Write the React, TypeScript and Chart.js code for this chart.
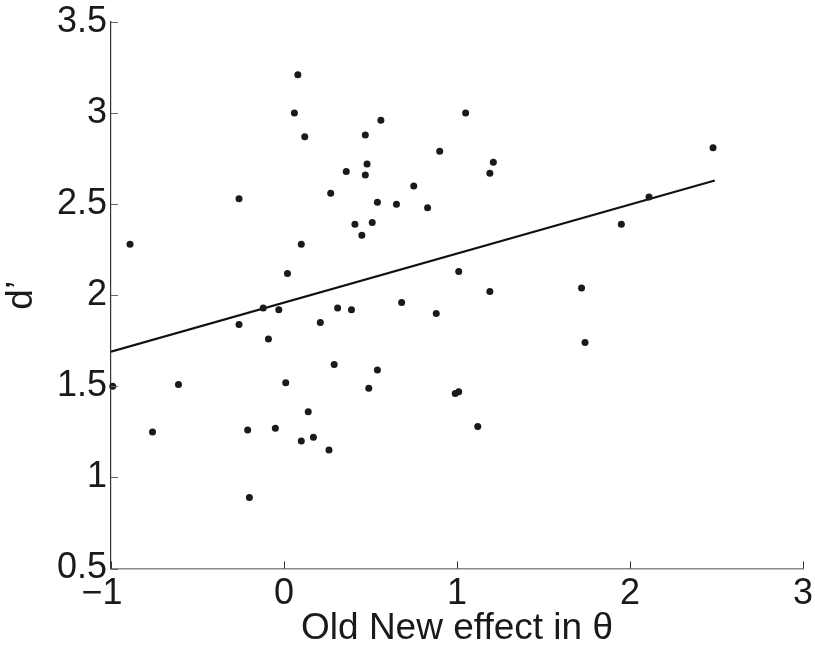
import React, { useEffect, useRef } from "react";
import { Chart, registerables } from "chart.js";

Chart.register(...registerables);

const xVals = [
  -0.89, 0.08, 0.06, 0.12, 0.56, 0.47, 0.9, 0.48, 0.36, 0.47, -0.26, 0.27, 0.75, 0.54, 0.65, 0.83, 0.41, 0.51, 0.45,
  0.1, 0.02, 1.01, 1.05, 1.21, 1.19, 2.48, 2.11, 1.95, 1.19, 1.72, -0.99, -0.76, -0.61, -0.26, -0.12, -0.03, -0.09,
  0.01, -0.21, -0.05, -0.2, 0.14, 0.1, 0.17, 0.26, 0.21, 0.31, 0.39, 0.29, 0.54, 0.49, 0.68, 0.88, 0.99, 1.01, 1.74,
  1.12,
];
const yVals = [
  2.28, 3.21, 3.0, 2.87, 2.96, 2.88, 2.79, 2.72, 2.68, 2.66, 2.53, 2.56, 2.6, 2.51, 2.5, 2.48, 2.39, 2.4, 2.33, 2.28,
  2.12, 2.13, 3.0, 2.73, 2.67, 2.81, 2.54, 2.39, 2.02, 2.04, 1.5, 1.25, 1.51, 1.84, 1.93, 1.92, 1.76, 1.52, 1.26,
  1.27, 0.89, 1.36, 1.2, 1.22, 1.15, 1.85, 1.93, 1.92, 1.62, 1.59, 1.49, 1.96, 1.9, 1.46, 1.47, 1.74, 1.28,
];
const fitX = [-1, 2.49];
const fitY = [1.69, 2.63];
const xTicks = [-1, 0, 1, 2, 3];
const xTickLabels = ["\u22121\u2002", "0", "1", "2", "3"];
const yTicks = [0.5, 1, 1.5, 2, 2.5, 3, 3.5];
const yTickLabels = ["0.5", "1", "1.5", "2", "2.5", "3", "3.5"];
const xTitle = "Old New effect in \u03b8";
const yTitle = "d\u2019";

const FONT = "'Liberation Sans', Arial, Helvetica, sans-serif";

const innerTicks = {
  id: "innerTicks",
  afterDraw(chart: any) {
    const ctx = chart.ctx;
    const xs = chart.scales.x;
    const ys = chart.scales.y;
    const area = chart.chartArea;
    ctx.save();
    ctx.lineWidth = 1;
    ctx.strokeStyle = "#333";
    xTicks.forEach((v) => {
      const px = Math.round(xs.getPixelForValue(v)) + 0.5;
      ctx.beginPath();
      ctx.moveTo(px, area.bottom);
      ctx.lineTo(px, area.bottom - 7);
      ctx.stroke();
    });
    ctx.strokeStyle = "#666";
    yTicks.forEach((v) => {
      const py = Math.round(ys.getPixelForValue(v)) + 0.5;
      ctx.beginPath();
      ctx.moveTo(area.left, py);
      ctx.lineTo(area.left + 7, py);
      ctx.stroke();
    });
    ctx.restore();
  },
};

export default function App() {
  const ref = useRef<HTMLCanvasElement | null>(null);
  useEffect(() => {
    document.body.style.margin = "0";
    const canvas = ref.current;
    if (!canvas) return;
    const chart = new Chart(canvas, {
      type: "scatter",
      data: {
        datasets: [
          {
            type: "scatter",
            data: xVals.map((x, i) => ({ x, y: yVals[i] })),
            backgroundColor: "#1a1a1a",
            borderColor: "#1a1a1a",
            pointRadius: 3.5,
            borderWidth: 0,
            clip: false as any,
          },
          {
            type: "line",
            data: fitX.map((x, i) => ({ x, y: fitY[i] })),
            borderColor: "#111",
            borderWidth: 2.2,
            pointRadius: 0,
            fill: false,
          } as any,
        ],
      },
      options: {
        animation: false,
        responsive: false,
        events: [],
        layout: { padding: { top: 22, right: 12, left: 0, bottom: 0 } },
        plugins: { legend: { display: false }, tooltip: { enabled: false } },
        scales: {
          x: {
            type: "linear",
            min: -1,
            max: 3,
            afterBuildTicks: (s: any) => {
              s.ticks = xTicks.map((v) => ({ value: v }));
            },
            afterFit: (s: any) => {
              s.height = 77.5;
              s.paddingLeft = 0;
              s.paddingRight = 0;
            },
            ticks: {
              callback: (v: any) => {
                const i = xTicks.indexOf(Number(v));
                return i >= 0 ? xTickLabels[i] : "";
              },
              font: { family: FONT, size: 36 },
              color: "#1a1a1a",
              padding: 4,
              maxRotation: 0,
              autoSkip: false,
            },
            grid: { display: false, drawTicks: false, tickLength: 0 },
            border: { display: true, color: "#8a8a8a", width: 1.5 },
            title: {
              display: true,
              text: xTitle,
              font: { family: FONT, size: 37, lineHeight: 0.95 },
              color: "#1a1a1a",
              padding: { top: 0, bottom: 0 },
            },
          },
          y: {
            type: "linear",
            min: 0.5,
            max: 3.5,
            afterBuildTicks: (s: any) => {
              s.ticks = yTicks.map((v) => ({ value: v }));
            },
            afterFit: (s: any) => {
              s.width = 111;
              s.paddingTop = 0;
              s.paddingBottom = 0;
            },
            ticks: {
              callback: (v: any) => {
                const i = yTicks.indexOf(Number(v));
                return i >= 0 ? yTickLabels[i] : "";
              },
              font: { family: FONT, size: 36 },
              color: "#1a1a1a",
              padding: 4,
              autoSkip: false,
            },
            grid: { display: false, drawTicks: false, tickLength: 0 },
            border: { display: true, color: "#333", width: 1.2 },
            title: {
              display: true,
              text: yTitle,
              font: { family: FONT, size: 37 },
              color: "#1a1a1a",
              padding: { top: 0, bottom: 0 },
            },
          },
        },
      },
      plugins: [innerTicks],
    });
    return () => chart.destroy();
  }, []);
  return <canvas ref={ref} width={815} height={646} style={{ display: "block" }} />;
}
